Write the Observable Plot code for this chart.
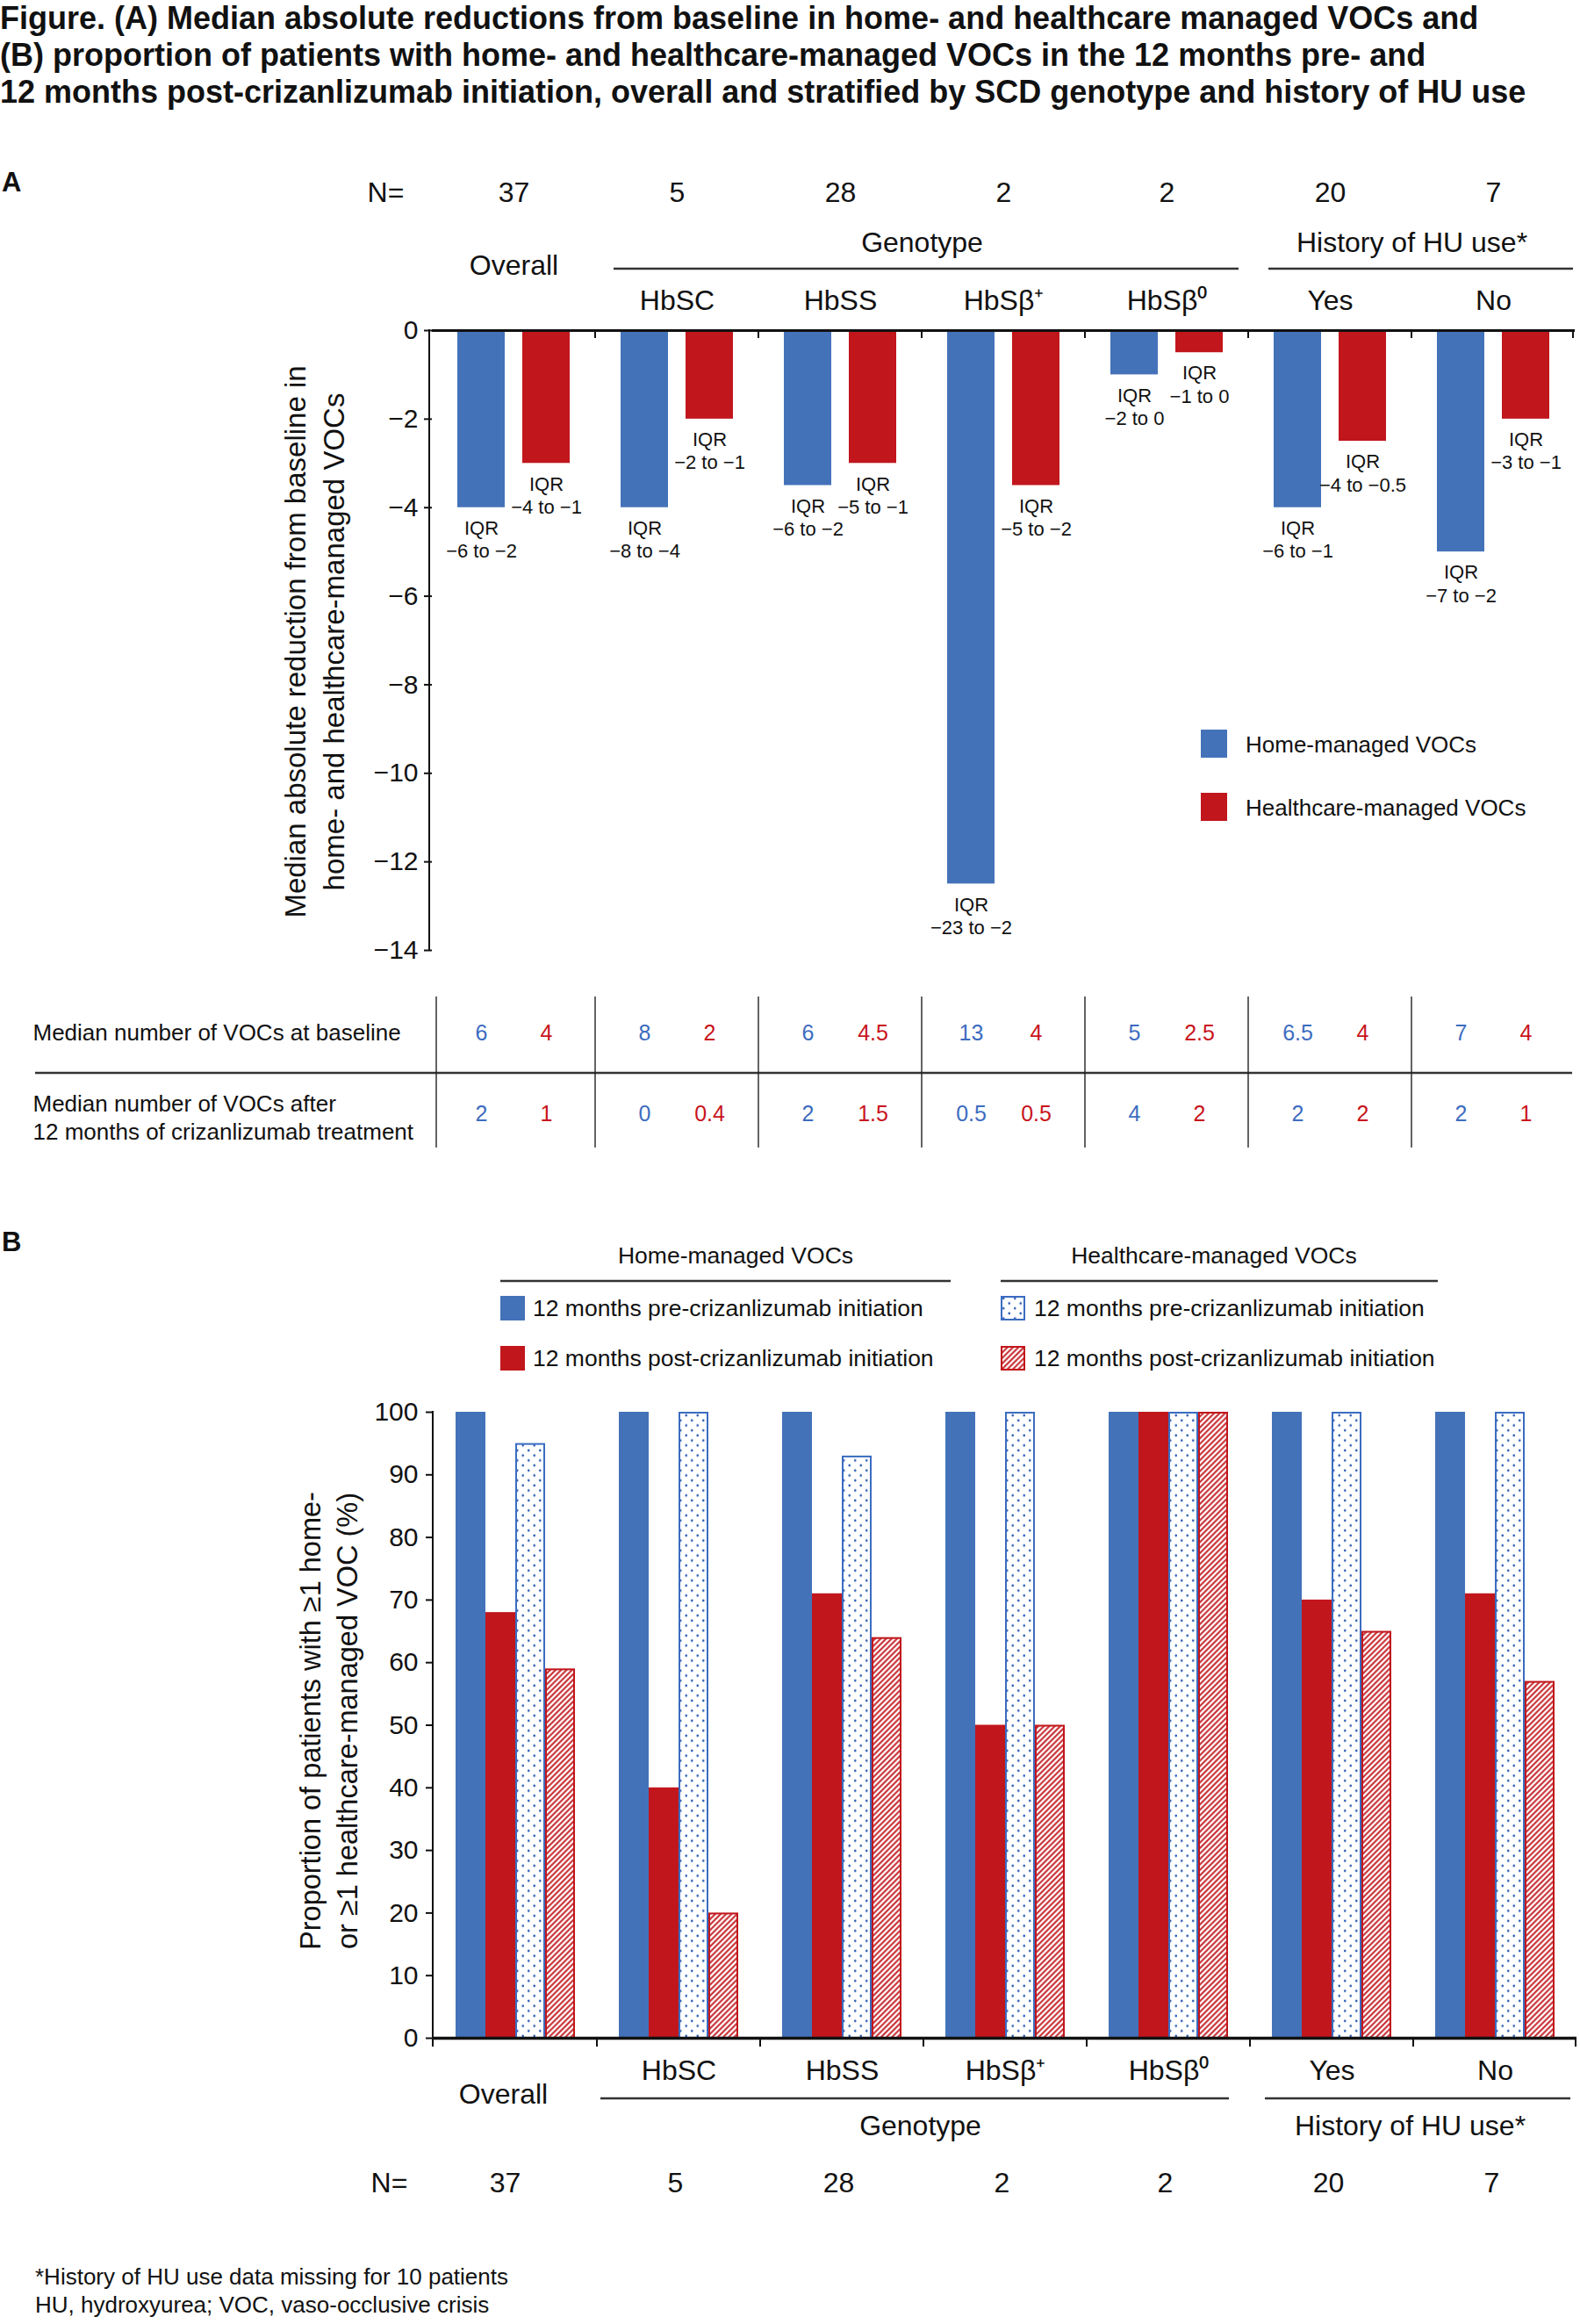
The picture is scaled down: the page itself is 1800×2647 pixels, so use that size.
<!DOCTYPE html>
<html><head><meta charset="utf-8">
<script src="https://cdn.jsdelivr.net/npm/d3@7"></script>
<script src="https://cdn.jsdelivr.net/npm/@observablehq/plot@0.6"></script>
<style>
html,body{margin:0;padding:0;background:#fff;overflow:hidden;}
#page{position:relative;width:1800px;height:2647px;overflow:hidden;font-family:"Liberation Sans",Arial,Helvetica,sans-serif;color:#111;}
.abs{position:absolute;white-space:nowrap;}
</style></head>
<body>
<svg width="0" height="0" style="position:absolute">
<defs>
<pattern id="dots" width="13" height="11.4" patternUnits="userSpaceOnUse">
<rect width="13" height="11.4" fill="#fff"/>
<circle cx="3.25" cy="2.85" r="1.35" fill="#2f5fb5"/>
<circle cx="9.75" cy="8.55" r="1.35" fill="#2f5fb5"/>
</pattern>
<pattern id="hatch" width="4.4" height="4.4" patternUnits="userSpaceOnUse" patternTransform="rotate(45)">
<rect width="4.4" height="4.4" fill="#fff"/>
<line x1="2.2" y1="0" x2="2.2" y2="4.4" stroke="#c1161c" stroke-width="1.9"/>
</pattern>
</defs>
</svg>
<div id="page"></div>
<script>
// ---------- data ----------
const titleLines = [
  "Figure. (A) Median absolute reductions from baseline in home- and healthcare managed VOCs and",
  "(B) proportion of patients with home- and healthcare-managed VOCs in the 12 months pre- and",
  "12 months post-crizanlizumab initiation, overall and stratified by SCD genotype and history of HU use"
];
const groups = ["Overall", "HbSC", "HbSS", "HbSβ+", "HbSβ0", "Yes", "No"];
const groupLabels = ["Overall", "HbSC", "HbSS", "HbSβ⁺", "HbSβ⁰", "Yes", "No"];
const nValues = [37, 5, 28, 2, 2, 20, 7];
const seriesA = ["Home-managed VOCs", "Healthcare-managed VOCs"];
const homeReduction = [-4, -4, -3.5, -12.5, -1, -4, -5];
const healthcareReduction = [-3, -2, -3, -3.5, -0.5, -2.5, -2];
const homeIQR = ["−6 to −2", "−8 to −4", "−6 to −2", "−23 to −2", "−2 to 0", "−6 to −1", "−7 to −2"];
const healthcareIQR = ["−4 to −1", "−2 to −1", "−5 to −1", "−5 to −2", "−1 to 0", "−4 to −0.5", "−3 to −1"];
const homeBaseline = ["6", "8", "6", "13", "5", "6.5", "7"];
const healthcareBaseline = ["4", "2", "4.5", "4", "2.5", "4", "4"];
const homeAfter = ["2", "0", "2", "0.5", "4", "2", "2"];
const healthcareAfter = ["1", "0.4", "1.5", "0.5", "2", "2", "1"];
const rowLabels = ["Median number of VOCs at baseline", "Median number of VOCs after\n12 months of crizanlizumab treatment"];
const yTicksA = [0, -2, -4, -6, -8, -10, -12, -14];
const yTitleA = ["Median absolute reduction from baseline in", "home- and healthcare-managed VOCs"];

const seriesB = ["Home pre", "Home post", "Healthcare pre", "Healthcare post"];
const legendHeadersB = ["Home-managed VOCs", "Healthcare-managed VOCs"];
const legendLabelsB = ["12 months pre-crizanlizumab initiation", "12 months post-crizanlizumab initiation"];
const homePre = [100, 100, 100, 100, 100, 100, 100];
const homePost = [68, 40, 71, 50, 100, 70, 71];
const healthcarePre = [95, 100, 93, 100, 100, 100, 100];
const healthcarePost = [59, 20, 64, 50, 100, 65, 57];
const yTicksB = [0, 10, 20, 30, 40, 50, 60, 70, 80, 90, 100];
const yTitleB = ["Proportion of patients with ≥1 home-", "or ≥1 healthcare-managed VOC (%)"];
const spanLabels = ["Genotype", "History of HU use*"];
const footnotes = ["*History of HU use data missing for 10 patients", "HU, hydroxyurea; VOC, vaso-occlusive crisis"];

// ---------- style ----------
const FONT = '"Liberation Sans", Arial, Helvetica, sans-serif';
const BLUE = "#4472b9", RED = "#c1161c", TBLUE = "#3d6cc0", TRED = "#c8141c", INK = "#111";
const HEAD = 32, TICK = 30;
const fmt = d => d < 0 ? "−" + Math.abs(d) : String(d);
const page = document.getElementById("page");
const NS = "http://www.w3.org/2000/svg";

function addText(txt, o) {
  const d = document.createElement("div");
  d.className = "abs";
  const lh = o.lh || Math.round(o.size * 1.25);
  d.style.fontSize = o.size + "px";
  d.style.lineHeight = lh + "px";
  d.style.fontWeight = o.weight || "normal";
  d.style.top = (o.cy - lh / 2) + "px";
  d.style.left = o.x + "px";
  if (o.anchor === "middle") d.style.transform = "translateX(-50%)";
  if (o.color) d.style.color = o.color;
  d.textContent = txt;
  page.appendChild(d);
  return d;
}
function addLine(svg, x1, y1, x2, y2, w, c) {
  const l = document.createElementNS(NS, "line");
  l.setAttribute("x1", x1); l.setAttribute("y1", y1);
  l.setAttribute("x2", x2); l.setAttribute("y2", y2);
  l.setAttribute("stroke", c || "#222"); l.setAttribute("stroke-width", w);
  svg.appendChild(l);
}
function facetBands(plot, left, right, width) {
  let s = null;
  try { s = plot.scale("fx"); } catch (e) {}
  if (s && s.apply && s.bandwidth != null) return {start: g => s.apply(g), bw: s.bandwidth};
  const bw = (width - left - right) / groups.length;
  return {start: g => left + groups.indexOf(g) * bw, bw};
}
function yApply(plot, v, fallback) {
  try { const s = plot.scale("y"); if (s && s.apply) return s.apply(v); } catch (e) {}
  return fallback(v);
}

// ---------- panel A ----------
const dataA = groups.flatMap((g, i) => [
  {group: g, series: seriesA[0], value: homeReduction[i], iqr: homeIQR[i], base: homeBaseline[i], after: homeAfter[i]},
  {group: g, series: seriesA[1], value: healthcareReduction[i], iqr: healthcareIQR[i], base: healthcareBaseline[i], after: healthcareAfter[i]}
]);
const headA = groups.map((g, i) => ({group: g, label: groupLabels[i], n: String(nValues[i])}));

const A = {width: 1800, height: 1330, top: 376, bottom: 248, left: 489, right: 3};
const plotA = Plot.plot({
  width: A.width, height: A.height,
  marginTop: A.top, marginBottom: A.bottom, marginLeft: A.left, marginRight: A.right,
  style: {fontFamily: FONT, fontSize: "28px", color: INK, background: "transparent", overflow: "visible"},
  fx: {domain: groups, padding: 0, axis: null},
  x: {domain: seriesA, paddingInner: 0.267, paddingOuter: 0.38, axis: null},
  y: {domain: [-14, 0]},
  color: {domain: seriesA, range: [BLUE, RED]},
  marks: [
    Plot.barY(dataA, {fx: "group", x: "series", y: "value", fill: "series"}),
    Plot.text(dataA, {fx: "group", x: "series", y: "value", text: d => "IQR\n" + d.iqr,
      lineAnchor: "top", dy: 12, fontSize: 22, lineHeight: 1.2, fill: INK}),
    Plot.ruleY([0], {stroke: INK, strokeWidth: 3}),
    Plot.axisY({ticks: yTicksA, tickSize: 9, tickPadding: 7, tickFormat: fmt, fontSize: TICK, strokeWidth: 2, label: null}),
    Plot.text(headA, {fx: "group", text: "n", frameAnchor: "top", dy: -169, fontSize: HEAD}),
    Plot.text(headA.slice(0, 1), {fx: "group", text: () => "N=", frameAnchor: "top-left", textAnchor: "middle",
      dx: -53, dy: -169, fontSize: HEAD}),
    Plot.text(headA.slice(0, 1), {fx: "group", text: "label", frameAnchor: "top", dy: -86, fontSize: HEAD}),
    Plot.text(headA.slice(1), {fx: "group", text: "label", frameAnchor: "top", dy: -46, fontSize: HEAD}),
    Plot.text([{group: groups[3], label: spanLabels[0]}, {group: groups[6], label: spanLabels[1]}],
      {fx: "group", text: "label", frameAnchor: "top-left", textAnchor: "middle", dy: -112, fontSize: HEAD}),
    Plot.text(dataA, {fx: "group", x: "series", text: "base", frameAnchor: "bottom", dy: 102, fontSize: 25,
      fill: d => d.series === seriesA[0] ? TBLUE : TRED}),
    Plot.text(dataA, {fx: "group", x: "series", text: "after", frameAnchor: "bottom", dy: 194, fontSize: 25,
      fill: d => d.series === seriesA[0] ? TBLUE : TRED}),
    Plot.text(headA.slice(0, 1), {fx: "group", text: () => rowLabels[0], frameAnchor: "bottom-left", textAnchor: "start",
      dx: -455, dy: 102, fontSize: 26}),
    Plot.text(headA.slice(0, 1), {fx: "group", text: () => rowLabels[1], frameAnchor: "bottom-left", textAnchor: "start",
      dx: -455, dy: 215, fontSize: 26, lineHeight: 1.2})
  ]
});
plotA.style.position = "absolute"; plotA.style.left = "0px"; plotA.style.top = "0px";
page.appendChild(plotA);
{
  const fb = facetBands(plotA, A.left, A.right, A.width);
  const y = v => yApply(plotA, v, v2 => A.top + (0 - v2) / 14 * (A.height - A.top - A.bottom));
  const y0 = y(0), yMin = y(-14);
  addLine(plotA, A.left, y0 - 1, A.left, yMin + 1, 2, INK);
  groups.forEach((g, i) => { if (i > 0) addLine(plotA, fb.start(g), y0, fb.start(g), y0 + 9, 2, INK); });
  const endX = fb.start(groups[6]) + fb.bw - 2;
  addLine(plotA, endX, y0, endX, y0 + 9, 2, INK);
  addLine(plotA, fb.start(groups[1]) + 21, 306, fb.start(groups[4]) + fb.bw - 11, 306, 2.5, "#333");
  addLine(plotA, fb.start(groups[5]) + 23, 306, endX, 306, 2.5, "#333");
  addLine(plotA, 40, 1222, 1791, 1222, 2.5, "#333");
  groups.forEach((g, i) => {
    const x = i === 0 ? fb.start(g) + 5 : fb.start(g);
    addLine(plotA, x, 1135, x, 1307, 1.4, "#222");
  });
}

// ---------- panel B ----------
const dataB = groups.flatMap((g, i) => [
  {group: g, series: seriesB[0], value: homePre[i]},
  {group: g, series: seriesB[1], value: homePost[i]},
  {group: g, series: seriesB[2], value: healthcarePre[i]},
  {group: g, series: seriesB[3], value: healthcarePost[i]}
]);
const B = {width: 1800, height: 1317, top: 278, bottom: 326, left: 493, right: 3, offset: 1330};
const plotB = Plot.plot({
  width: B.width, height: B.height,
  marginTop: B.top, marginBottom: B.bottom, marginLeft: B.left, marginRight: B.right,
  style: {fontFamily: FONT, fontSize: "28px", color: INK, background: "transparent", overflow: "visible"},
  fx: {domain: groups, padding: 0, axis: null},
  x: {domain: seriesB, paddingInner: 0, paddingOuter: 0.66, axis: null},
  y: {domain: [0, 100]},
  marks: [
    Plot.barY(dataB.filter(d => d.series === seriesB[0]), {fx: "group", x: "series", y: "value", fill: BLUE}),
    Plot.barY(dataB.filter(d => d.series === seriesB[1]), {fx: "group", x: "series", y: "value", fill: RED}),
    Plot.barY(dataB.filter(d => d.series === seriesB[2]), {fx: "group", x: "series", y: "value", fill: "url(#dots)",
      stroke: "#3b6cc0", strokeWidth: 2, insetLeft: 1, insetRight: 1, insetTop: 1}),
    Plot.barY(dataB.filter(d => d.series === seriesB[3]), {fx: "group", x: "series", y: "value", fill: "url(#hatch)",
      stroke: RED, strokeWidth: 2, insetLeft: 1, insetRight: 1, insetTop: 1}),
    Plot.ruleY([0], {stroke: INK, strokeWidth: 3.5}),
    Plot.axisY({ticks: yTicksB, tickSize: 9, tickPadding: 9, fontSize: TICK, strokeWidth: 2, label: null}),
    Plot.text(headA.slice(1), {fx: "group", text: "label", frameAnchor: "bottom", dy: 47, fontSize: HEAD}),
    Plot.text(headA.slice(0, 1), {fx: "group", text: "label", frameAnchor: "bottom", dx: -14, dy: 74, fontSize: HEAD}),
    Plot.text([{group: groups[3], label: spanLabels[0]}, {group: groups[6], label: spanLabels[1]}],
      {fx: "group", text: "label", frameAnchor: "bottom-left", textAnchor: "middle", dx: -4, dy: 110, fontSize: HEAD}),
    Plot.text(headA.slice(0, 1), {fx: "group", text: "n", frameAnchor: "bottom", dx: -12, dy: 175, fontSize: HEAD}),
    Plot.text(headA.slice(1), {fx: "group", text: "n", frameAnchor: "bottom", dx: -4, dy: 175, fontSize: HEAD}),
    Plot.text(headA.slice(0, 1), {fx: "group", text: () => "N=", frameAnchor: "bottom-left", textAnchor: "middle",
      dx: -51, dy: 175, fontSize: HEAD})
  ]
});
plotB.style.position = "absolute"; plotB.style.left = "0px"; plotB.style.top = B.offset + "px";
page.appendChild(plotB);
{
  const fb = facetBands(plotB, B.left, B.right, B.width);
  const y = v => yApply(plotB, v, v2 => B.top + (100 - v2) / 100 * (B.height - B.top - B.bottom));
  const y0 = y(0), y100 = y(100);
  addLine(plotB, B.left, y100 - 1, B.left, y0 + 10, 2, INK);
  groups.forEach((g, i) => { if (i > 0) addLine(plotB, fb.start(g), y0, fb.start(g), y0 + 10, 2, INK); });
  const endX = fb.start(groups[6]) + fb.bw - 1;
  addLine(plotB, endX, y0, endX, y0 + 10, 2, INK);
  const ly = 2390 - B.offset;
  addLine(plotB, fb.start(groups[1]) + 4, ly, fb.start(groups[4]) + fb.bw - 24, ly, 2.5, "#333");
  addLine(plotB, fb.start(groups[5]) + 17, ly, endX - 6, ly, 2.5, "#333");
}

// ---------- HTML text ----------
{
  const t = document.createElement("div");
  t.className = "abs";
  t.style.left = "0px"; t.style.top = "0px";
  t.style.fontSize = "36px"; t.style.lineHeight = "42px"; t.style.fontWeight = "bold";
  t.innerHTML = titleLines.join("<br>");
  page.appendChild(t);
}
addText("A", {x: 2, cy: 207, size: 31, weight: "bold"});
addText("B", {x: 2, cy: 1414, size: 31, weight: "bold"});

function rotatedTitle(lines, cx, cy, size, lh) {
  const d = document.createElement("div");
  d.className = "abs";
  const W = 900, H = lh * lines.length;
  d.style.width = W + "px"; d.style.height = H + "px";
  d.style.left = (cx - W / 2) + "px"; d.style.top = (cy - H / 2) + "px";
  d.style.textAlign = "center"; d.style.fontSize = size + "px"; d.style.lineHeight = lh + "px";
  d.style.transform = "rotate(-90deg)";
  d.innerHTML = lines.join("<br>");
  page.appendChild(d);
}
rotatedTitle(yTitleA, 359, 731, 33, 44);
rotatedTitle(yTitleB, 375, 1960, 32.5, 42);

function swatch(x, cy, w, h, fill, stroke) {
  const s = document.createElementNS(NS, "svg");
  s.setAttribute("width", w); s.setAttribute("height", h);
  s.style.position = "absolute"; s.style.left = x + "px"; s.style.top = (cy - h / 2) + "px";
  const r = document.createElementNS(NS, "rect");
  r.setAttribute("x", 1); r.setAttribute("y", 1); r.setAttribute("width", w - 2); r.setAttribute("height", h - 2);
  r.setAttribute("fill", fill);
  r.setAttribute("stroke", stroke || fill); r.setAttribute("stroke-width", 2);
  s.appendChild(r); page.appendChild(s);
}
// legend A
swatch(1368, 847, 30, 32, BLUE);
swatch(1368, 919, 30, 32, RED);
addText(seriesA[0], {x: 1419, cy: 848, size: 26});
addText(seriesA[1], {x: 1419, cy: 920, size: 26});

// legend B
addText(legendHeadersB[0], {x: 838, cy: 1430, size: 26.5, anchor: "middle"});
addText(legendHeadersB[1], {x: 1383, cy: 1430, size: 26.5, anchor: "middle"});
{
  const s = document.createElementNS(NS, "svg");
  s.setAttribute("width", 1800); s.setAttribute("height", 10);
  s.style.position = "absolute"; s.style.left = "0px"; s.style.top = "1454px";
  addLine(s, 570, 5, 1083, 5, 2.5, "#333");
  addLine(s, 1140, 5, 1638, 5, 2.5, "#333");
  page.appendChild(s);
}
swatch(570, 1490, 28, 28, BLUE);
swatch(570, 1547, 28, 28, RED);
swatch(1140, 1490, 28, 28, "url(#dots)", "#3b6cc0");
swatch(1140, 1547, 28, 28, "url(#hatch)", RED);
addText(legendLabelsB[0], {x: 607, cy: 1490, size: 26.5});
addText(legendLabelsB[1], {x: 607, cy: 1547, size: 26.5});
addText(legendLabelsB[0], {x: 1178, cy: 1490, size: 26.5});
addText(legendLabelsB[1], {x: 1178, cy: 1547, size: 26.5});

// footnotes
addText(footnotes[0], {x: 40, cy: 2593, size: 26});
addText(footnotes[1], {x: 40, cy: 2625, size: 26});
</script>
</body></html>
